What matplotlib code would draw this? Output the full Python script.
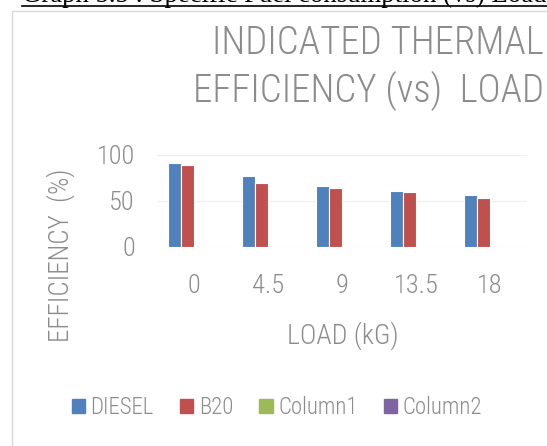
import numpy as np
import matplotlib
matplotlib.use("Agg")
import matplotlib.pyplot as plt
from matplotlib import font_manager
from matplotlib.patches import Rectangle
from matplotlib.lines import Line2D

loads = ["0", "4.5", "9", "13.5", "18"]
diesel = [91, 77, 66.5, 60.5, 56]
b20 = [89, 69.5, 64, 59.5, 53]
column1 = [0, 0, 0, 0, 0]
column2 = [0, 0, 0, 0, 0]
series_names = ["DIESEL", "B20", "Column1", "Column2"]
colors = ["#4f81bd", "#c0504d", "#9bbb59", "#8064a2"]

installed = {f.name for f in font_manager.fontManager.ttflist}
narrow = "DejaVu Sans"
for cand in ["Roboto Condensed", "Liberation Sans Narrow", "Open Sans Condensed", "Roboto"]:
    if cand in installed:
        narrow = cand
        break

grey = "#8c8c8c"
W, H = 547, 446
fig = plt.figure(figsize=(W / 100, H / 100), dpi=100)

def fx(px):
    return px / W

def fy(py):
    return 1 - py / H

# chart frame
fig.patches.append(Rectangle((fx(12), fy(H + 5)), fx(W), fy(11) - fy(H + 5),
                             transform=fig.transFigure, facecolor="none",
                             edgecolor="#d9d9d9", lw=1, zorder=-1))

# header from the document, mostly cut off
fig.text(fx(22), fy(2.5), "Graph 5.5 : Specific Fuel consumption (vs) Load",
         fontsize=19.3, family="Liberation Serif", color="black", va="baseline")
fig.lines.append(Line2D([fx(22), fx(W)], [fy(6), fy(6)], transform=fig.transFigure,
                        color="black", lw=1.2))

ax = fig.add_axes([fx(157), fy(246.7), fx(527) - fx(157), fy(155) - fy(246.7)])
x = np.arange(len(loads))
width = 0.175
all_series = [diesel, b20, column1, column2]
for i, (vals, name, c) in enumerate(zip(all_series, series_names, colors)):
    ax.bar(x + (i - 1.5) * width, vals, width, color=c, label=name,
           edgecolor="white", linewidth=0.8, zorder=3)

ax.set_xlim(-0.5, len(loads) - 0.5)
ax.set_ylim(0, 100)
ax.set_yticks([0, 50, 100])
ax.set_xticks(x)
ax.set_xticklabels(loads)
ax.grid(axis="y", color="#f0f0f0", lw=1, zorder=0)
for s in ax.spines.values():
    s.set_visible(False)
ax.tick_params(length=0, labelsize=19, labelcolor=grey)
ax.tick_params(axis="x", pad=20)
ax.tick_params(axis="y", pad=16)
for lab in ax.get_xticklabels() + ax.get_yticklabels():
    lab.set_family(narrow)
    lab.set_weight("light")

fig.text(fx(343), fy(336), "LOAD (kG)", ha="center", va="center",
         fontsize=20, color=grey, family=narrow, weight="light")
fig.text(fx(61), fy(255), "EFFICIENCY  (%)", ha="center", va="center", rotation=90,
         fontsize=19.5, color=grey, family=narrow, weight="light")

fig.text(fx(544), fy(43), "INDICATED THERMAL", ha="right", va="center",
         fontsize=28, color=grey, family=narrow, weight="light")
fig.text(fx(544), fy(91), "EFFICIENCY (vs)  LOAD", ha="right", va="center",
         fontsize=28, color=grey, family=narrow, weight="light")

handles = [Rectangle((0, 0), 1, 1, color=c) for c in colors]
leg = fig.legend(handles, series_names, loc="center", bbox_to_anchor=(fx(277), fy(408)),
                 ncol=4, frameon=False, handlelength=0.57, handleheight=0.57,
                 handletextpad=0.25, columnspacing=1.15,
                 prop={"family": narrow, "size": 16.5, "weight": "light"})
for t in leg.get_texts():
    t.set_color(grey)

fig.savefig("out.png", dpi=100)
